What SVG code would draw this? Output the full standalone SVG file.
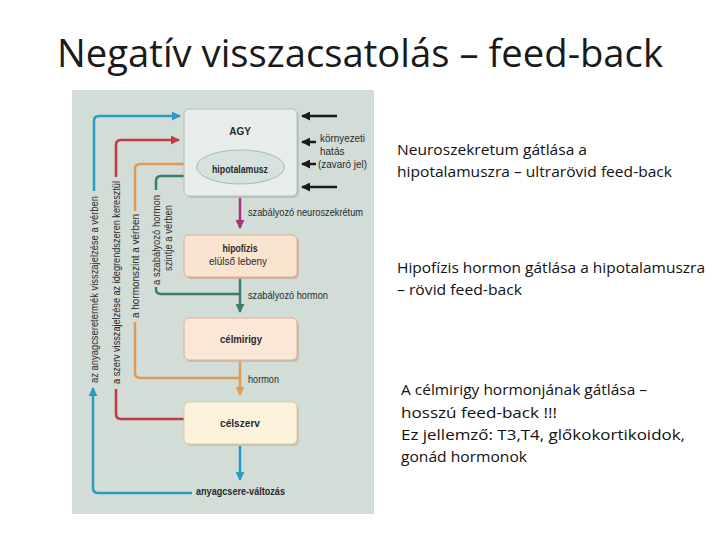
<svg xmlns="http://www.w3.org/2000/svg" width="720" height="540" viewBox="0 0 720 540">
<defs>
<style>
.title{font-family:"Open Sans","Liberation Sans",sans-serif;font-size:38px;fill:#1a1a1a}
.note{font-family:"Open Sans","Liberation Sans",sans-serif;font-size:15px;fill:#111}
.lbl{font-family:"Liberation Sans",Arial,sans-serif;font-size:10px;fill:#2a2a2a}
.bold{font-family:"Liberation Sans",Arial,sans-serif;font-size:10px;font-weight:bold;fill:#2a2a2a}
.box{stroke-width:1}
.ln{fill:none;stroke-width:2.5}
</style>
<marker id="aBlue" viewBox="0 0 10 10" refX="9" refY="5" markerWidth="3.6" markerHeight="3.6" orient="auto"><path d="M0,0 L10,5 L0,10 z" fill="#2b9bc6"/></marker>
<marker id="aRed" viewBox="0 0 10 10" refX="9" refY="5" markerWidth="3.6" markerHeight="3.6" orient="auto"><path d="M0,0 L10,5 L0,10 z" fill="#c23a44"/></marker>
<marker id="aOr" viewBox="0 0 10 10" refX="9" refY="5" markerWidth="3.6" markerHeight="3.6" orient="auto"><path d="M0,0 L10,5 L0,10 z" fill="#e09a55"/></marker>
<marker id="aTeal" viewBox="0 0 10 10" refX="9" refY="5" markerWidth="3.6" markerHeight="3.6" orient="auto"><path d="M0,0 L10,5 L0,10 z" fill="#3e7c71"/></marker>
<marker id="aMag" viewBox="0 0 10 10" refX="9" refY="5" markerWidth="3.6" markerHeight="3.6" orient="auto"><path d="M0,0 L10,5 L0,10 z" fill="#a2327e"/></marker>
<marker id="aBlk" viewBox="0 0 10 10" refX="9" refY="5" markerWidth="3.6" markerHeight="3.6" orient="auto"><path d="M0,0 L10,5 L0,10 z" fill="#1a1a1a"/></marker>
</defs>
<rect width="720" height="540" fill="#ffffff"/>
<text class="title" x="57" y="67" textLength="606" lengthAdjust="spacingAndGlyphs">Negatív visszacsatolás – feed-back</text>

<rect id="panel" x="72" y="90" width="302" height="424" fill="#d2ddd8"/>

<g id="connectors">
  <path class="ln" stroke="#2b9bc6" d="M94,191 V121 Q94,116 99,116 H180" marker-end="url(#aBlue)"/>
  <path class="ln" stroke="#2b9bc6" d="M192,493 H98 Q93,493 93,488 V388" marker-end="url(#aBlue)"/>
  <path class="ln" stroke="#2b9bc6" d="M240,444 V480" marker-end="url(#aBlue)"/>
  <path class="ln" stroke="#c23a44" d="M116,177 V145 Q116,140 121,140 H179" marker-end="url(#aRed)"/>
  <path class="ln" stroke="#c23a44" d="M116,389 V414 Q116,419 121,419 H184"/>
  <path class="ln" stroke="#e09a55" d="M135,211 V169 Q135,164 140,164 H197" marker-end="url(#aOr)"/>
  <path class="ln" stroke="#e09a55" d="M135,322 V373 Q135,378 140,378 H240"/>
  <path class="ln" stroke="#e09a55" d="M240,361 V395" marker-end="url(#aOr)"/>
  <path class="ln" stroke="#3e7c71" d="M156,190 V181 Q156,176 161,176 H198" marker-end="url(#aTeal)"/>
  <path class="ln" stroke="#3e7c71" d="M156,287 V289 Q156,294 161,294 H240"/>
  <path class="ln" stroke="#3e7c71" d="M240,277 V312" marker-end="url(#aTeal)"/>
  <path class="ln" stroke="#a2327e" d="M240,196 V228" marker-end="url(#aMag)"/>
  <path class="ln" stroke="#1a1a1a" d="M337,116 H302" marker-end="url(#aBlk)"/>
  <path class="ln" stroke="#1a1a1a" d="M316,142 H302" marker-end="url(#aBlk)"/>
  <path class="ln" stroke="#1a1a1a" d="M316,164 H302" marker-end="url(#aBlk)"/>
  <path class="ln" stroke="#1a1a1a" d="M337,187 H302" marker-end="url(#aBlk)"/>
</g>

<g id="agy">
  <rect x="186" y="111" width="113" height="87" rx="5" fill="#b9c5c1"/>
  <rect class="box" x="184" y="109" width="113" height="87" rx="5" fill="#e7edeb" stroke="#b3c0bc"/>
  <text class="bold" x="240" y="135" text-anchor="middle">AGY</text>
</g>
<g id="hipotalamusz">
  <ellipse cx="240.5" cy="167" rx="44" ry="17" fill="#d5e2de" stroke="#a7bab4" stroke-width="1"/>
  <text class="bold" x="240" y="173" text-anchor="middle" textLength="56" lengthAdjust="spacingAndGlyphs">hipotalamusz</text>
</g>
<g id="hipofizis">
  <rect x="186" y="237" width="113" height="42" rx="5" fill="#c9b9a8"/>
  <rect class="box" x="184" y="235" width="113" height="42" rx="5" fill="#fae3cf" stroke="#dcae88"/>
  <text class="bold" x="240" y="252" text-anchor="middle" textLength="35" lengthAdjust="spacingAndGlyphs">hipofízis</text>
  <text class="lbl" x="238" y="265" text-anchor="middle" textLength="58" lengthAdjust="spacingAndGlyphs">elülső lebeny</text>
</g>
<g id="celmirigy">
  <rect x="186" y="320" width="113" height="42" rx="5" fill="#c9bbae"/>
  <rect class="box" x="184" y="318" width="113" height="42" rx="5" fill="#fbe7d5" stroke="#dcb496"/>
  <text class="bold" x="241" y="343" text-anchor="middle" textLength="42" lengthAdjust="spacingAndGlyphs">célmirigy</text>
</g>
<g id="celszerv">
  <rect x="186" y="404" width="113" height="42" rx="5" fill="#c9c3b0"/>
  <rect class="box" x="184" y="402" width="113" height="42" rx="5" fill="#fdf3dc" stroke="#dcc9a2"/>
  <text class="bold" x="240" y="427" text-anchor="middle" textLength="40" lengthAdjust="spacingAndGlyphs">célszerv</text>
</g>

<g id="labels">
  <text class="lbl" x="320" y="142" textLength="45" lengthAdjust="spacingAndGlyphs">környezeti</text>
  <text class="lbl" x="320" y="155">hatás</text>
  <text class="lbl" x="318" y="168" textLength="49" lengthAdjust="spacingAndGlyphs">(zavaró jel)</text>
  <text class="lbl" x="248" y="216" textLength="115" lengthAdjust="spacingAndGlyphs">szabályozó neuroszekrétum</text>
  <text class="lbl" x="248" y="299" textLength="80" lengthAdjust="spacingAndGlyphs">szabályozó hormon</text>
  <text class="lbl" x="248" y="383" textLength="31" lengthAdjust="spacingAndGlyphs">hormon</text>
  <text class="bold" x="196" y="495" textLength="89" lengthAdjust="spacingAndGlyphs">anyagcsere-változás</text>
  <text class="lbl" transform="translate(97.5,383) rotate(-90)" textLength="187" lengthAdjust="spacingAndGlyphs">az anyagcseretermék visszajelzése a vérben</text>
  <text class="lbl" transform="translate(119.5,384) rotate(-90)" textLength="203" lengthAdjust="spacingAndGlyphs">a szerv visszajelzése az idegrendszeren keresztül</text>
  <text class="lbl" transform="translate(138.5,318) rotate(-90)" textLength="104" lengthAdjust="spacingAndGlyphs">a hormonszint a vérben</text>
  <text class="lbl" transform="translate(160,285) rotate(-90)" textLength="90" lengthAdjust="spacingAndGlyphs">a szabályozó hormon</text>
  <text class="lbl" transform="translate(172,271) rotate(-90)" textLength="66" lengthAdjust="spacingAndGlyphs">szintje a vérben</text>
</g>

<g id="notes">
  <text class="note" x="397" y="155" textLength="190" lengthAdjust="spacingAndGlyphs">Neuroszekretum gátlása a</text>
  <text class="note" x="397" y="177" textLength="275" lengthAdjust="spacingAndGlyphs">hipotalamuszra – ultrarövid feed-back</text>
  <text class="note" x="397" y="273" textLength="308" lengthAdjust="spacingAndGlyphs">Hipofízis hormon gátlása a hipotalamuszra</text>
  <text class="note" x="397" y="295" textLength="125" lengthAdjust="spacingAndGlyphs">– rövid feed-back</text>
  <text class="note" x="401" y="395" textLength="246" lengthAdjust="spacingAndGlyphs">A célmirigy hormonjának gátlása –</text>
  <text class="note" x="401" y="418" textLength="156" lengthAdjust="spacingAndGlyphs">hosszú feed-back !!!</text>
  <text class="note" x="401" y="440" textLength="284" lengthAdjust="spacingAndGlyphs">Ez jellemző: T3,T4, glőkokortikoidok,</text>
  <text class="note" x="401" y="462" textLength="126" lengthAdjust="spacingAndGlyphs">gonád hormonok</text>
</g>
</svg>
